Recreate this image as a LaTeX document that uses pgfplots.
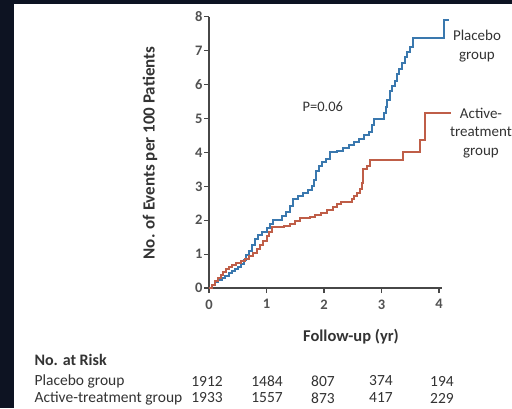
\documentclass[border=0pt]{standalone}
\usepackage{pgfplots}
\pgfplotsset{compat=1.18}
\usepackage{fontspec}
\setmainfont{Carlito}
\setsansfont{Carlito}
\definecolor{frame}{HTML}{0D1322}
\definecolor{txt}{HTML}{333333}
\definecolor{pblue}{HTML}{3A78AE}
\definecolor{ared}{HTML}{BF5E48}
\begin{document}
\begin{tikzpicture}[x=1pt,y=1pt]
\useasboundingbox (0,0) rectangle (512,408);
\fill[white] (0,0) rectangle (512,408);
\fill[frame] (0,0) rectangle (14,408);
\fill[frame] (0,404) rectangle (512,408);
\begin{axis}[
  at={(209pt,120pt)}, anchor=south west,
  scale only axis, width=232.9pt, height=271.2pt,
  xmin=0, xmax=4.05, ymin=0, ymax=8,
  axis lines*=left, tick align=outside,
  xtick={0,1,2,3,4}, ytick={0,1,2,3,4,5,6,7,8},
  major tick length=5pt,
  axis line style={line width=1.3pt, draw=txt!90},
  every tick/.style={line width=1.2pt, draw=txt!90},
  tick label style={font=\fontsize{14.5}{16}\selectfont\bfseries, text=txt!85},
  /pgf/number format/assume math mode=true,
  xticklabel style={yshift=-3pt},
  yticklabel style={xshift=2pt},
  clip=false,
]
\addplot[const plot, pblue, line width=2pt] coordinates {
(0,0) (0.05,0.1) (0.1,0.18) (0.16,0.24) (0.22,0.3) (0.28,0.36) (0.34,0.44)
(0.4,0.5) (0.45,0.56) (0.5,0.63) (0.55,0.72) (0.6,0.84) (0.65,0.96)
(0.7,1.1) (0.75,1.28) (0.8,1.44) (0.85,1.55) (0.92,1.65) (1.0,1.76)
(1.06,1.9) (1.12,2.0) (1.2,2.02) (1.27,2.12) (1.34,2.25) (1.4,2.42)
(1.46,2.62) (1.55,2.7) (1.64,2.8) (1.72,2.9) (1.79,3.02) (1.83,3.2)
(1.86,3.45) (1.91,3.6) (1.97,3.72) (2.03,3.82) (2.1,4.0) (2.22,4.05)
(2.33,4.12) (2.43,4.22) (2.52,4.3) (2.6,4.4) (2.7,4.5) (2.78,4.6)
(2.83,4.8) (2.87,5.0) (3.04,5.15) (3.07,5.35) (3.1,5.55) (3.14,5.8)
(3.18,5.95) (3.23,6.1) (3.27,6.3) (3.31,6.45) (3.36,6.65) (3.41,6.8)
(3.45,6.95) (3.5,7.1) (3.55,7.37) (4.08,7.9) (4.17,7.9)
};
\addplot[const plot, ared, line width=2pt] coordinates {
(0,0) (0.05,0.1) (0.1,0.2) (0.15,0.3) (0.2,0.38) (0.25,0.46) (0.3,0.55)
(0.35,0.62) (0.4,0.68) (0.47,0.74) (0.55,0.8) (0.63,0.86) (0.7,0.94)
(0.77,1.04) (0.83,1.15) (0.88,1.28) (0.94,1.4) (1.0,1.52) (1.05,1.65)
(1.1,1.8) (1.3,1.83) (1.41,1.9) (1.5,1.98) (1.58,2.07) (1.75,2.1)
(1.85,2.16) (1.95,2.22) (2.05,2.3) (2.15,2.4) (2.22,2.48) (2.3,2.55)
(2.48,2.62) (2.52,2.7) (2.58,2.8) (2.63,2.92) (2.66,3.1) (2.68,3.5)
(2.75,3.6) (2.8,3.78) (3.37,4.0) (3.67,4.37) (3.76,5.16) (4.2,5.16)
};
\node[font=\fontsize{14.5}{16}\selectfont, text=txt] at (axis cs:1.98,5.34) {P=0.06};
\end{axis}
\node[rotate=90, font=\fontsize{17}{20}\selectfont\bfseries, text=txt] at (150,255) {No. of Events per 100 Patients};
\node[font=\fontsize{15}{18.5}\selectfont, text=txt, align=center] at (477,362) {Placebo\\group};
\node[font=\fontsize{15}{18.5}\selectfont, text=txt, align=center] at (481,275) {Active-\\treatment\\group};
\node[font=\fontsize{16.5}{19}\selectfont\bfseries, text=txt] at (351,71) {Follow-up (yr)};
\begin{scope}[every node/.style={font=\fontsize{15.5}{18}\selectfont, text=txt}]
\node[anchor=west, font=\fontsize{16}{18}\selectfont\bfseries] at (31,48) {No. at Risk};
\node[anchor=west] at (31,27) {Placebo group};
\node[anchor=west] at (31,10) {Active-treatment group};
\node at (207,27) {1912}; \node at (267,27) {1484}; \node at (323,27) {807}; \node at (381,27) {374}; \node at (442,27) {194};
\node at (207,10) {1933}; \node at (267,10) {1557}; \node at (323,10) {873}; \node at (381,10) {417}; \node at (442,10) {229};
\end{scope}
\end{tikzpicture}
\end{document}
